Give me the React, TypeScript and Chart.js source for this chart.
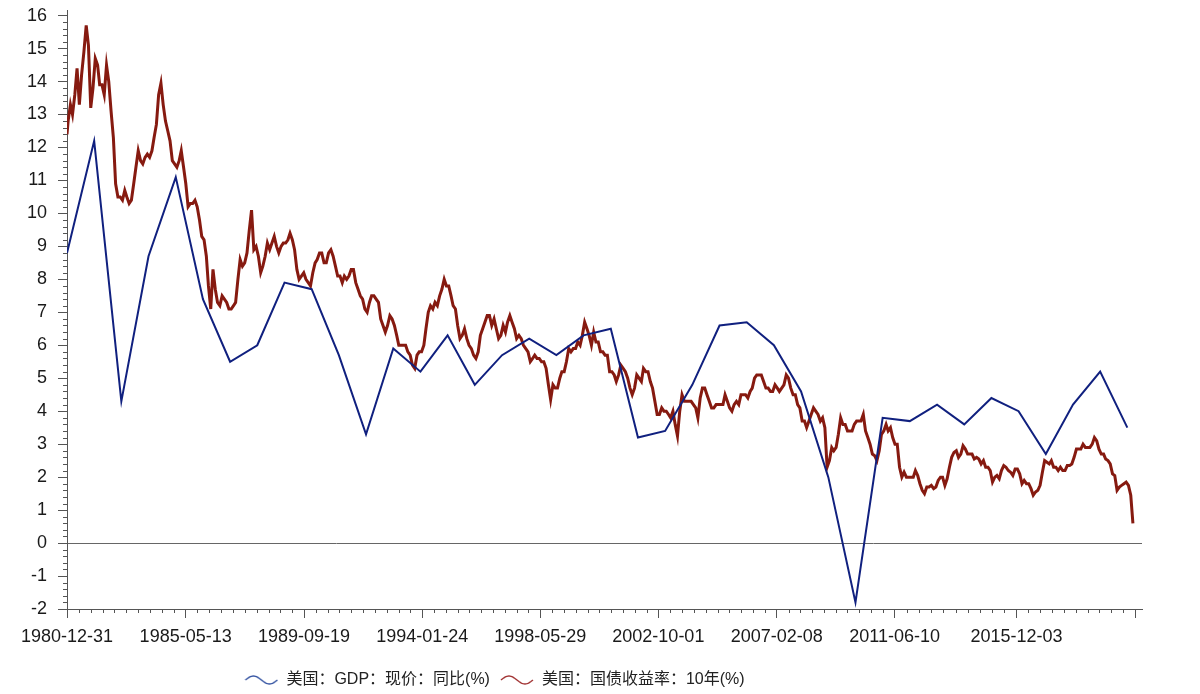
import React, { useEffect, useRef } from 'react';
import { Chart, registerables } from 'chart.js';

Chart.register(...registerables);

const FONT = "'Liberation Sans', Arial, 'Noto Sans CJK SC', sans-serif";

// ---- Data ----
const gdpLabel = '美国：GDP：现价：同比(%)';
const yieldLabel = '美国：国债收益率：10年(%)';

// GDP yoy (%) at each year end
const gdpYears = [
  1980, 1981, 1982, 1983, 1984, 1985, 1986, 1987, 1988, 1989,
  1990, 1991, 1992, 1993, 1994, 1995, 1996, 1997, 1998, 1999,
  2000, 2001, 2002, 2003, 2004, 2005, 2006, 2007, 2008, 2009,
  2010, 2011, 2012, 2013, 2014, 2015, 2016, 2017, 2018, 2019,
];
const gdpValues = [
  8.8, 12.2, 4.3, 8.7, 11.1, 7.4, 5.5, 6.0, 7.9, 7.7,
  5.7, 3.3, 5.9, 5.2, 6.3, 4.8, 5.7, 6.2, 5.7, 6.3,
  6.5, 3.2, 3.4, 4.8, 6.6, 6.7, 6.0, 4.6, 2.0, -1.8,
  3.8, 3.7, 4.2, 3.6, 4.4, 4.0, 2.7, 4.2, 5.2, 3.5,
];

// 10-year Treasury yield (%), monthly, mid-month
const yieldStartDate = '1980-12-31';
const yieldStartValue = 12.4;
const yieldFirstYear = 1981;
const yield1980s = [
  12.8, 13.3, 13.0, 13.6, 14.4, 13.3, 14.2, 14.9, 15.7, 15.1, 13.2, 13.8, // 1981
  14.7, 14.5, 13.9, 13.9, 13.6, 14.5, 14.0, 13.1, 12.3, 10.9, 10.5, 10.5, // 1982
  10.4, 10.7, 10.5, 10.3, 10.4, 10.9, 11.4, 11.9, 11.6, 11.5, 11.7, 11.8, // 1983
  11.7, 11.9, 12.3, 12.7, 13.6, 13.95, 13.3, 12.8, 12.5, 12.2, 11.6, 11.5, // 1984
  11.4, 11.6, 11.9, 11.4, 10.9, 10.2, 10.3, 10.3, 10.4, 10.2, 9.8, 9.3,   // 1985
  9.2, 8.7, 7.8, 7.1, 8.3, 7.7, 7.3, 7.2, 7.5, 7.4, 7.3, 7.1,             // 1986
  7.1, 7.2, 7.3, 8.0, 8.6, 8.4, 8.5, 8.8, 9.5, 10.1, 8.9, 9.0,            // 1987
  8.7, 8.2, 8.4, 8.7, 9.1, 8.9, 9.1, 9.3, 9.0, 8.8, 9.0, 9.1,             // 1988
  9.1, 9.2, 9.4, 9.2, 8.9, 8.3, 8.0, 8.1, 8.2, 8.0, 7.9, 7.8,             // 1989
];
const yield1990s = [
  8.2, 8.5, 8.6, 8.8, 8.8, 8.5, 8.5, 8.8, 8.9, 8.7, 8.4, 8.1, // 1990
  8.1, 7.9, 8.1, 8.0, 8.1, 8.3, 8.3, 7.9, 7.7, 7.5, 7.4, 7.1, // 1991
  7.0, 7.3, 7.5, 7.5, 7.4, 7.3, 6.8, 6.6, 6.4, 6.6, 6.9, 6.8, // 1992
  6.6, 6.3, 6.0, 6.0, 6.0, 6.0, 5.8, 5.7, 5.4, 5.3, 5.7, 5.8, // 1993
  5.8, 6.0, 6.5, 7.0, 7.2, 7.1, 7.3, 7.2, 7.5, 7.7, 8.0, 7.8, // 1994
  7.8, 7.5, 7.2, 7.1, 6.6, 6.2, 6.3, 6.5, 6.2, 6.0, 5.9, 5.7, // 1995
  5.6, 5.8, 6.3, 6.5, 6.7, 6.9, 6.9, 6.6, 6.8, 6.5, 6.2, 6.3, // 1996
  6.6, 6.4, 6.7, 6.9, 6.7, 6.5, 6.2, 6.3, 6.2, 6.0, 5.9, 5.8, // 1997
  5.5, 5.6, 5.7, 5.6, 5.6, 5.5, 5.5, 5.3, 4.8, 4.35, 4.8, 4.7, // 1998
  4.7, 5.0, 5.2, 5.2, 5.5, 5.9, 5.8, 5.9, 5.9, 6.1, 6.0, 6.3, // 1999
];
const yield2000s = [
  6.7, 6.5, 6.3, 6.0, 6.4, 6.1, 6.1, 5.8, 5.8, 5.7, 5.7, 5.2, // 2000
  5.2, 5.1, 4.9, 5.1, 5.4, 5.3, 5.2, 5.0, 4.7, 4.5, 4.7, 5.1, // 2001
  5.0, 4.9, 5.3, 5.2, 5.2, 4.9, 4.7, 4.3, 3.9, 3.9, 4.1, 4.0, // 2002
  4.0, 3.9, 3.8, 4.0, 3.6, 3.25, 4.0, 4.5, 4.3, 4.3, 4.3, 4.3, // 2003
  4.2, 4.1, 3.8, 4.4, 4.7, 4.7, 4.5, 4.3, 4.1, 4.1, 4.2, 4.2, // 2004
  4.2, 4.2, 4.5, 4.3, 4.1, 4.0, 4.2, 4.3, 4.2, 4.5, 4.5, 4.5, // 2005
  4.4, 4.6, 4.7, 5.0, 5.1, 5.1, 5.1, 4.9, 4.7, 4.7, 4.6, 4.6, // 2006
  4.8, 4.7, 4.6, 4.7, 4.8, 5.1, 5.0, 4.7, 4.5, 4.5, 4.2, 4.1, // 2007
  3.7, 3.7, 3.5, 3.7, 3.9, 4.1, 4.0, 3.9, 3.7, 3.8, 3.5, 2.3, // 2008
  2.5, 2.9, 2.8, 2.9, 3.3, 3.8, 3.6, 3.6, 3.4, 3.4, 3.4, 3.6, // 2009
];
const yield2010s = [
  3.7, 3.7, 3.7, 3.9, 3.4, 3.2, 3.0, 2.7, 2.65, 2.5, 2.8, 3.3, // 2010
  3.4, 3.6, 3.4, 3.5, 3.2, 3.0, 3.0, 2.3, 2.0, 2.15, 2.0, 2.0, // 2011
  2.0, 2.0, 2.2, 2.05, 1.8, 1.6, 1.5, 1.7, 1.7, 1.75, 1.65, 1.7, // 2012
  1.9, 2.0, 2.0, 1.75, 1.95, 2.3, 2.6, 2.75, 2.8, 2.6, 2.7, 2.95, // 2013
  2.85, 2.7, 2.7, 2.7, 2.55, 2.6, 2.55, 2.4, 2.5, 2.3, 2.3, 2.2, // 2014
  1.85, 2.0, 2.05, 1.95, 2.2, 2.35, 2.3, 2.2, 2.15, 2.05, 2.25, 2.25, // 2015
  2.1, 1.8, 1.9, 1.8, 1.8, 1.65, 1.45, 1.55, 1.6, 1.75, 2.15, 2.5, // 2016
  2.45, 2.4, 2.5, 2.3, 2.3, 2.2, 2.3, 2.2, 2.2, 2.35, 2.35, 2.4, // 2017
  2.6, 2.85, 2.85, 2.85, 3.0, 2.9, 2.9, 2.9, 3.0, 3.2, 3.1, 2.85, // 2018
  2.7, 2.7, 2.55, 2.5, 2.4, 2.1, 2.05, 1.6, 1.7, 1.75, 1.8, 1.85, // 2019
  1.75, 1.45, 0.6, // 2020
];

// Axis
const xTickDates = [
  '1980-12-31', '1985-05-13', '1989-09-19', '1994-01-24', '1998-05-29',
  '2002-10-01', '2007-02-08', '2011-06-10', '2015-12-03',
];
const xLastTickDate = '2020-04-12';
const xAxisEndDate = '2020-07-15';
const yTickValues = [-2, -1, 0, 1, 2, 3, 4, 5, 6, 7, 8, 9, 10, 11, 12, 13, 14, 15, 16];
const yAxisMin = -2;
const yAxisMax = 16.17;

// ---- helpers ----
const toMs = (s: string) => {
  const [y, m, d] = s.split('-').map(Number);
  return Date.UTC(y, m - 1, d);
};

function makeWave(color: string) {
  const c = document.createElement('canvas');
  c.width = 34;
  c.height = 12;
  const g = c.getContext('2d')!;
  g.strokeStyle = color;
  g.lineWidth = 1.4;
  g.beginPath();
  for (let i = 0; i <= 32; i++) {
    const x = 1 + i;
    const y = 6 - 4 * Math.sin((i / 32) * 2 * Math.PI);
    if (i === 0) g.moveTo(x, y);
    else g.lineTo(x, y);
  }
  g.stroke();
  return c;
}

const minorTicksPlugin = {
  id: 'minorTicks',
  afterDraw(chart: any) {
    const { ctx, chartArea: a } = chart;
    const xs = chart.scales.x;
    const ys = chart.scales.y;
    ctx.save();
    ctx.strokeStyle = '#555';
    ctx.lineWidth = 1;
    ctx.beginPath();
    for (let j = yTickValues[0] * 5; j < yTickValues[yTickValues.length - 1] * 5; j++) {
      if (j % 5 === 0) continue;
      const py = Math.round(ys.getPixelForValue(j / 5)) + 0.5;
      ctx.moveTo(a.left - 4, py);
      ctx.lineTo(a.left, py);
    }
    const majors = xs.ticks.map((t: any) => t.value);
    for (let i = 0; i < majors.length - 1; i++) {
      for (let k = 1; k < 10; k++) {
        const v = majors[i] + ((majors[i + 1] - majors[i]) * k) / 10;
        const px = Math.round(xs.getPixelForValue(v)) + 0.5;
        ctx.moveTo(px, a.bottom);
        ctx.lineTo(px, a.bottom + 4);
      }
    }
    ctx.stroke();
    ctx.restore();
  },
};

const legendPlacePlugin = {
  id: 'legendPlace',
  afterLayout(chart: any) {
    const lg = chart.legend;
    if (!lg) return;
    const dx = 486.5 - (lg.left + lg.right) / 2;
    lg.left += dx;
    lg.right += dx;
    lg.top += 4;
    lg.bottom += 4;
  },
};

export default function App() {
  const ref = useRef<HTMLCanvasElement | null>(null);

  useEffect(() => {
    if (!ref.current) return;
    Chart.defaults.font.family = FONT;

    const gdpData = gdpYears.map((yr, i) => ({ x: Date.UTC(yr, 11, 31), y: gdpValues[i] }));
    const monthly = [...yield1980s, ...yield1990s, ...yield2000s, ...yield2010s];
    const yieldData = [
      { x: toMs(yieldStartDate), y: yieldStartValue },
      ...monthly.map((v, i) => ({
        x: Date.UTC(yieldFirstYear + Math.floor(i / 12), i % 12, 15),
        y: v,
      })),
    ];
    const xTicks = [...xTickDates.map(toMs), toMs(xLastTickDate)];

    const chart = new Chart(ref.current, {
      type: 'line',
      data: {
        datasets: [
          {
            label: gdpLabel,
            data: gdpData,
            borderColor: '#10207f',
            backgroundColor: '#10207f',
            borderWidth: 2,
            pointRadius: 0,
            pointHoverRadius: 0,
            tension: 0,
            pointStyle: makeWave('#3050a0') as any,
          },
          {
            label: yieldLabel,
            data: yieldData,
            borderColor: '#861a10',
            backgroundColor: '#861a10',
            borderWidth: 3,
            pointRadius: 0,
            pointHoverRadius: 0,
            tension: 0,
            pointStyle: makeWave('#a03030') as any,
          },
        ],
      },
      options: {
        animation: false,
        responsive: true,
        maintainAspectRatio: false,
        layout: { padding: { top: 2, right: 50, left: 0, bottom: 0 } },
        plugins: {
          tooltip: { enabled: false },
          legend: {
            position: 'bottom',
            labels: {
              usePointStyle: true,
              pointStyleWidth: 34,
              boxHeight: 16,
              padding: 10,
              color: '#222',
              font: { size: 16, family: FONT },
            },
          },
        },
        scales: {
          x: {
            type: 'linear',
            min: toMs(yieldStartDate),
            max: toMs(xAxisEndDate),
            afterBuildTicks: (scale: any) => {
              scale.ticks = xTicks.map((v) => ({ value: v }));
            },
            afterFit: (scale: any) => {
              scale.height = 49;
              scale.paddingLeft = 0;
              scale.paddingRight = 0;
            },
            ticks: {
              autoSkip: false,
              maxRotation: 0,
              minRotation: 0,
              padding: 8,
              color: '#1a1a1a',
              font: { size: 18, family: FONT },
              callback: (_v: any, i: number) => xTickDates[i] ?? '',
            },
            grid: {
              drawOnChartArea: false,
              tickLength: 9,
              tickColor: '#555',
              tickWidth: 1,
            },
            border: { display: true, color: '#555', width: 1 },
          },
          y: {
            type: 'linear',
            min: yAxisMin,
            max: yAxisMax,
            afterBuildTicks: (scale: any) => {
              scale.ticks = yTickValues.map((v) => ({ value: v }));
            },
            afterFit: (scale: any) => {
              scale.width = 59;
              scale.paddingTop = 0;
              scale.paddingBottom = 0;
            },
            ticks: {
              padding: 11,
              color: '#1a1a1a',
              font: { size: 18, family: FONT },
              callback: (v: any) => String(v),
            },
            grid: {
              drawOnChartArea: true,
              color: (ctx: any) => (ctx.tick && ctx.tick.value === 0 ? '#666' : 'rgba(0,0,0,0)'),
              lineWidth: 1,
              tickLength: 9,
              tickColor: '#555',
              tickWidth: 1,
            },
            border: { display: true, color: '#555', width: 1 },
          },
        },
      },
      plugins: [minorTicksPlugin, legendPlacePlugin],
    });

    return () => chart.destroy();
  }, []);

  return (
    <div style={{ width: 1184, height: 686, position: 'relative' }}>
      <canvas ref={ref} />
    </div>
  );
}
